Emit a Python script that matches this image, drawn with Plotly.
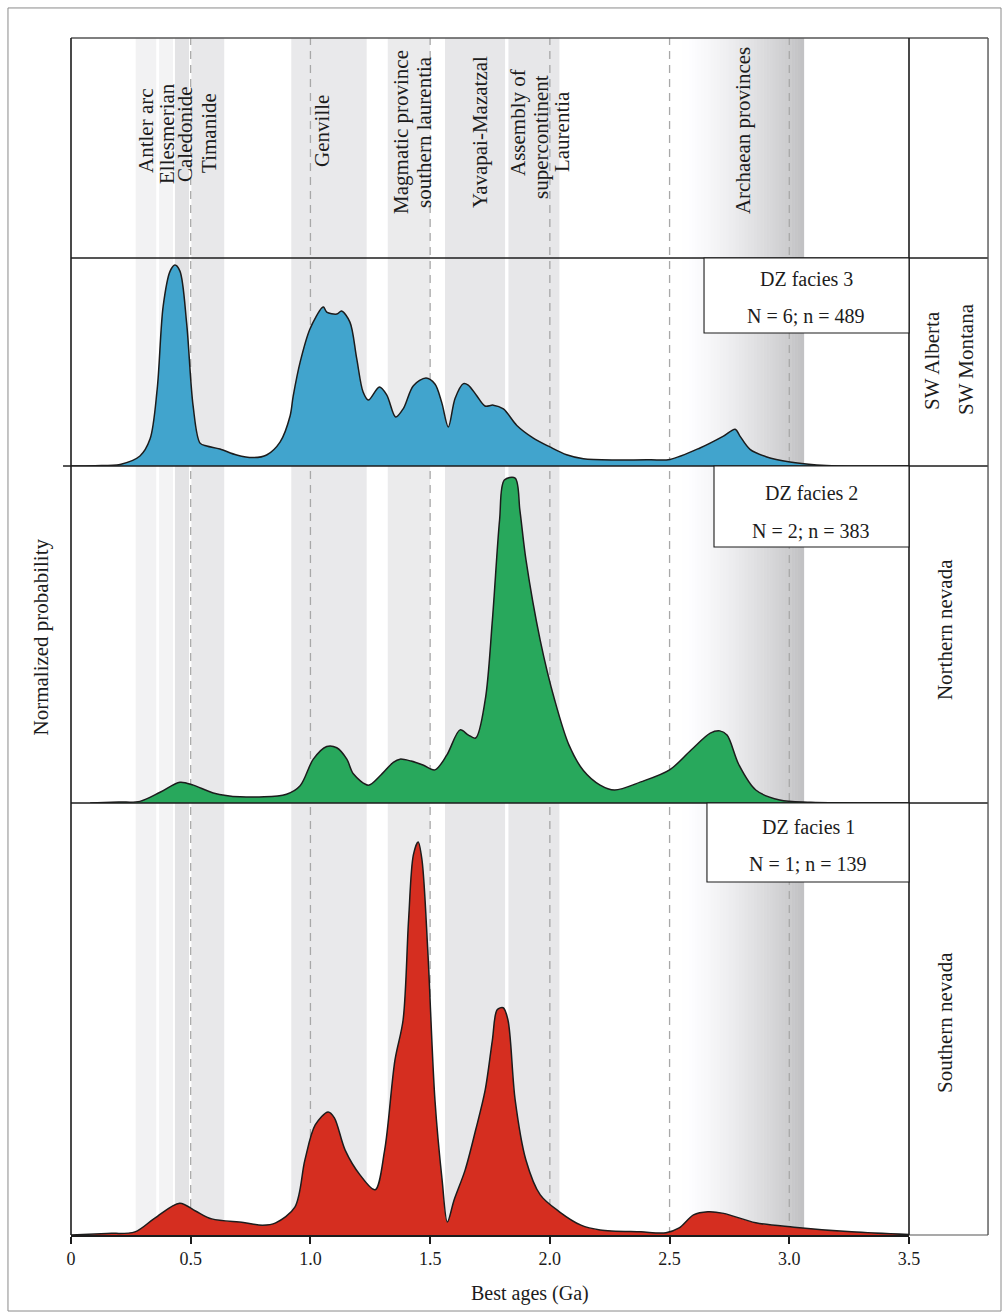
import plotly.graph_objects as go

# ---------------------------------------------------------------------------
# Detrital zircon age spectra (ages in Ga, probability normalised to peak = 1)
# ---------------------------------------------------------------------------
facies3_age = [0.0, 0.1, 0.205, 0.288, 0.33, 0.36, 0.385, 0.414, 0.434, 0.455, 0.483, 0.51,
               0.539, 0.567, 0.622, 0.692, 0.76, 0.817, 0.873, 0.915, 0.928, 0.957, 0.998,
               1.047, 1.055, 1.068, 1.11, 1.13, 1.165, 1.193, 1.22, 1.242, 1.288, 1.319,
               1.356, 1.388, 1.43, 1.483, 1.52, 1.548, 1.576, 1.604, 1.639, 1.659, 1.694,
               1.729, 1.764, 1.806, 1.862, 1.931, 2.0, 2.07, 2.14, 2.28, 2.42, 2.502,
               2.627, 2.725, 2.774, 2.794, 2.836, 2.906, 3.003, 3.115, 3.2, 3.5]
facies3_prob = [0.0, 0.002, 0.008, 0.05, 0.134, 0.383, 0.796, 0.97, 1.0, 0.97, 0.711, 0.299,
                0.114, 0.1, 0.085, 0.055, 0.042, 0.055, 0.119, 0.249, 0.348, 0.517, 0.682,
                0.786, 0.791, 0.766, 0.756, 0.771, 0.716, 0.537, 0.368, 0.328, 0.393, 0.353,
                0.244, 0.286, 0.4, 0.438, 0.408, 0.318, 0.194, 0.336, 0.41, 0.403, 0.351,
                0.299, 0.303, 0.284, 0.202, 0.139, 0.095, 0.056, 0.036, 0.03, 0.031, 0.033,
                0.09, 0.149, 0.183, 0.149, 0.083, 0.045, 0.02, 0.005, 0.0, 0.0]

facies2_age = [0.08, 0.2, 0.288, 0.372, 0.455, 0.511, 0.594, 0.706, 0.9, 0.957, 1.012, 1.068,
               1.11, 1.152, 1.18, 1.242, 1.29, 1.346, 1.374, 1.42, 1.47, 1.52, 1.57, 1.625,
               1.66, 1.69, 1.73, 1.76, 1.79, 1.81, 1.855, 1.875, 1.9, 1.96, 2.02, 2.08,
               2.14, 2.21, 2.27, 2.38, 2.5, 2.59, 2.67, 2.71, 2.74, 2.79, 2.86, 2.96,
               3.09, 3.5]
facies2_prob = [0.0, 0.003, 0.005, 0.033, 0.064, 0.055, 0.031, 0.019, 0.027, 0.053, 0.135,
                0.174, 0.17, 0.135, 0.089, 0.055, 0.083, 0.125, 0.135, 0.129, 0.117, 0.102,
                0.148, 0.225, 0.209, 0.2, 0.317, 0.563, 0.871, 0.994, 1.0, 0.9, 0.75, 0.5,
                0.317, 0.178, 0.1, 0.055, 0.04, 0.065, 0.102, 0.163, 0.215, 0.222, 0.209,
                0.117, 0.04, 0.009, 0.002, 0.0]

facies1_age = [0.0, 0.15, 0.267, 0.35, 0.454, 0.52, 0.588, 0.72, 0.8, 0.855, 0.935, 0.977,
               1.02, 1.074, 1.1, 1.145, 1.207, 1.27, 1.31, 1.353, 1.387, 1.41, 1.43, 1.45,
               1.466, 1.49, 1.52, 1.55, 1.572, 1.6, 1.646, 1.69, 1.73, 1.76, 1.78, 1.805,
               1.825, 1.855, 1.9, 1.96, 2.04, 2.13, 2.21, 2.38, 2.485, 2.54, 2.6, 2.66,
               2.726, 2.86, 3.02, 3.26, 3.5]
facies1_prob = [0.0, 0.004, 0.008, 0.043, 0.081, 0.061, 0.041, 0.032, 0.025, 0.031, 0.071,
                0.191, 0.28, 0.313, 0.298, 0.216, 0.153, 0.115, 0.216, 0.445, 0.547, 0.802,
                0.967, 1.0, 0.954, 0.725, 0.344, 0.14, 0.033, 0.089, 0.165, 0.267, 0.369,
                0.496, 0.573, 0.578, 0.547, 0.344, 0.191, 0.102, 0.059, 0.025, 0.013, 0.008,
                0.006, 0.018, 0.051, 0.059, 0.055, 0.031, 0.02, 0.008, 0.001]

# Source provinces (age windows, Ga)
province_start = [0.27, 0.368, 0.434, 0.503, 0.92, 1.323, 1.562, 1.827]
province_end = [0.356, 0.426, 0.493, 0.64, 1.235, 1.50, 1.813, 2.04]
archaean_window = [2.54, 3.06]

reference_ages = [0.5, 1.0, 1.5, 2.0, 2.5, 3.0]
tick_values = [0, 0.5, 1.0, 1.5, 2.0, 2.5, 3.0, 3.5]
tick_labels = ["0", "0.5", "1.0", "1.5", "2.0", "2.5", "3.0", "3.5"]

# ---------------------------------------------------------------------------
FONT = "Liberation Serif"
INK = "#1c1c1c"
province_fill = ["#f2f2f3", "#f3f3f4", "#e3e3e5", "#e8e8ea",
                 "#e9e9eb", "#ebebec", "#e7e7e9", "#e7e7e9"]

fig = go.Figure()

panels = [
    (facies1_age, facies1_prob, "#d52e20", "y"),
    (facies2_age, facies2_prob, "#28a85c", "y2"),
    (facies3_age, facies3_prob, "#41a4cd", "y3"),
]
for age, prob, colour, yax in panels:
    fig.add_trace(go.Scatter(
        x=age, y=prob, yaxis=yax, mode="lines",
        line=dict(color=INK, width=1.5, shape="spline", smoothing=0.9),
        fill="tozeroy", fillcolor=colour, hoverinfo="skip", showlegend=False,
    ))

shapes = []
# province windows spanning all panels
for x0, x1, c in zip(province_start, province_end, province_fill):
    shapes.append(dict(type="rect", xref="x", yref="paper", x0=x0, x1=x1, y0=0, y1=1,
                       fillcolor=c, line=dict(width=0), layer="below"))
# Archaean window drawn as a white-to-grey ramp
steps = 40
a0, a1 = archaean_window
for i in range(steps):
    t = (i + 0.5) / steps
    g = int(round(255 - 62 * t ** 1.4))
    shapes.append(dict(type="rect", xref="x", yref="paper",
                       x0=a0 + (a1 - a0) * i / steps, x1=a0 + (a1 - a0) * (i + 1) / steps + 0.002,
                       y0=0, y1=1, fillcolor=f"rgb({g},{g},{min(g + 2, 255)})",
                       line=dict(width=0), layer="below"))
# dashed reference ages
for a in reference_ages:
    shapes.append(dict(type="line", xref="x", yref="paper", x0=a, x1=a, y0=0, y1=1,
                       line=dict(color="#a8a8a8", width=1.3, dash="8px,6px"), layer="below"))

# panel frame (paper units: plot spans x 0..1, y 0..1)
Y_BLUE, Y_GREEN, Y_RED = 0.8162, 0.6424, 0.3609
X_COL = 1.0943
for yy in (Y_BLUE, Y_GREEN, Y_RED):
    shapes.append(dict(type="line", xref="paper", yref="paper", x0=-0.0095 if yy == Y_GREEN else 0,
                       x1=X_COL, y0=yy, y1=yy, line=dict(color=INK, width=1.6)))
shapes += [
    dict(type="line", xref="paper", yref="paper", x0=0, x1=X_COL, y0=1, y1=1,
         line=dict(color="#555555", width=1.4)),
    dict(type="line", xref="paper", yref="paper", x0=1, x1=X_COL, y0=0, y1=0,
         line=dict(color="#555555", width=1.2)),
    dict(type="line", xref="paper", yref="paper", x0=0, x1=0, y0=0, y1=1,
         line=dict(color=INK, width=1.6)),
    dict(type="line", xref="paper", yref="paper", x0=1, x1=1, y0=0, y1=1,
         line=dict(color=INK, width=1.6)),
    dict(type="line", xref="paper", yref="paper", x0=X_COL, x1=X_COL, y0=0, y1=1,
         line=dict(color="#555555", width=1.4)),
    # outer frame
    dict(type="rect", xref="paper", yref="paper", x0=-0.0752, x1=1.1098, y0=-0.0635, y1=1.0251,
         line=dict(color="#8a8a8a", width=1), fillcolor="rgba(0,0,0,0)", layer="below"),
]

# sample-count boxes
boxes = [
    (0.7554, 0.7536, Y_BLUE, 0.8771, 0.7987, 0.7678, "DZ facies 3", "N = 6; n = 489"),
    (0.7673, 0.5748, Y_GREEN, 0.8831, 0.6199, 0.5881, "DZ facies 2", "N = 2; n = 383"),
    (0.7589, 0.2949, Y_RED, 0.8795, 0.3409, 0.3099, "DZ facies 1", "N = 1; n = 139"),
]
annotations = []
for x0, y0, y1, xc, yt1, yt2, t1, t2 in boxes:
    shapes.append(dict(type="rect", xref="paper", yref="paper", x0=x0, x1=1, y0=y0, y1=y1,
                       fillcolor="white", line=dict(color=INK, width=1.1), layer="above"))
    for yt, txt in ((yt1, t1), (yt2, t2)):
        annotations.append(dict(text=txt, xref="paper", yref="paper", x=xc, y=yt,
                                xanchor="center", yanchor="middle", showarrow=False,
                                font=dict(family=FONT, size=20, color=INK)))

# province labels in the header panel
header_labels = [
    ("Antler arc", 0.313, 0.9231), ("Ellesmerian", 0.401, 0.9198),
    ("Caledonide", 0.476, 0.9198), ("Timanide", 0.576, 0.9206),
    ("Genville", 1.048, 0.9223), ("Magmatic province", 1.378, 0.9215),
    ("southern laurentia", 1.474, 0.9215), ("Yavapai-Mazatzal", 1.708, 0.9215),
    ("Assembly of", 1.867, 0.929), ("supercontinent", 1.963, 0.9173),
    ("Laurentia", 2.051, 0.9215), ("Archaean provinces", 2.807, 0.9223),
]
for txt, xa, yp in header_labels:
    annotations.append(dict(text=txt, xref="x", yref="paper", x=xa, y=yp, textangle=-90,
                            xanchor="center", yanchor="middle", showarrow=False,
                            font=dict(family=FONT, size=21, color=INK)))

# region labels in the right-hand column
region_labels = [
    ("SW Alberta", 1.0274, 0.7310), ("SW Montana", 1.0680, 0.7318),
    ("Northern nevada", 1.0430, 0.5054), ("Southern nevada", 1.0430, 0.1771),
]
for txt, xp, yp in region_labels:
    annotations.append(dict(text=txt, xref="paper", yref="paper", x=xp, y=yp, textangle=-90,
                            xanchor="center", yanchor="middle", showarrow=False,
                            font=dict(family=FONT, size=21, color=INK)))

annotations += [
    dict(text="Normalized probability", xref="paper", yref="paper", x=-0.0358, y=0.5,
         textangle=-90, xanchor="center", yanchor="middle", showarrow=False,
         font=dict(family=FONT, size=21, color=INK)),
    dict(text="Best ages (Ga)", xref="paper", yref="paper", x=0.5477, y=-0.0485,
         xanchor="center", yanchor="middle", showarrow=False,
         font=dict(family=FONT, size=20, color=INK)),
]

hidden_y = dict(showticklabels=False, showgrid=False, zeroline=False, showline=False,
                ticks="", fixedrange=True)
fig.update_layout(
    width=1003, height=1312,
    margin=dict(l=71, r=94, t=38, b=77),
    paper_bgcolor="white", plot_bgcolor="white",
    xaxis=dict(range=[0, 3.5], tickvals=tick_values, ticktext=tick_labels,
               ticks="outside", ticklen=7, tickwidth=1.5, tickcolor=INK,
               showline=True, linecolor=INK, linewidth=1.6, showgrid=False, zeroline=False,
               tickfont=dict(family=FONT, size=18, color=INK), anchor="y"),
    yaxis=dict(domain=[0, Y_RED], range=[0, 1.099], **hidden_y),
    yaxis2=dict(domain=[Y_RED, Y_GREEN], range=[0, 1.037], **hidden_y),
    yaxis3=dict(domain=[Y_GREEN, Y_BLUE], range=[0, 1.035], **hidden_y),
    shapes=shapes, annotations=annotations,
)

fig.write_html("out.html")
